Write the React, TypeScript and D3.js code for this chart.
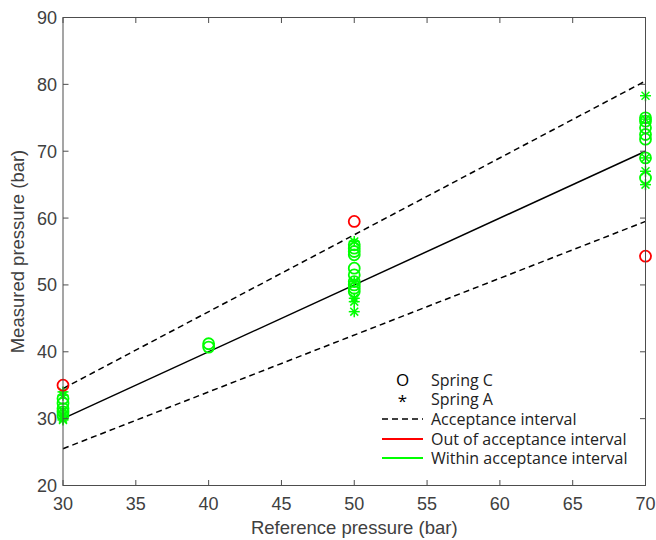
import React from "react";
import * as d3 from "d3";

const W = 656;
const H = 540;

// Spring C (circles)
const springCX = [30, 30, 30, 30, 30, 30, 40, 40, 50, 50, 50, 50, 50, 50, 50, 50, 50, 50, 50, 70, 70, 70, 70, 70, 70, 70, 70];
const springCY = [35.0, 33.0, 32.3, 31.5, 31.0, 30.5, 41.2, 40.7, 59.5, 56.0, 55.5, 55.0, 54.5, 52.5, 51.5, 50.5, 50.0, 49.5, 49.0, 54.3, 75.0, 74.5, 73.5, 72.5, 71.8, 69.0, 66.0];

// Spring A (asterisks)
const springAX = [30, 30, 30, 30, 30, 30, 50, 50, 50, 50, 50, 70, 70, 70, 70, 70];
const springAY = [34.0, 33.5, 31.0, 30.5, 30.0, 29.8, 56.5, 50.5, 48.0, 47.5, 46.0, 78.3, 74.8, 69.0, 67.0, 65.0];

const refRange = [30, 70];
const tolerance = 0.15;
const xTicks = [30, 35, 40, 45, 50, 55, 60, 65, 70];
const yTicks = [20, 30, 40, 50, 60, 70, 80, 90];

const legendLabels = ["Spring C", "Spring A", "Acceptance interval", "Out of acceptance interval", "Within acceptance interval"];

const RED = "#ff0000";
const GREEN = "#00ff00";
const AXIS = "#4d4d4d";
const TEXT = "#404040";

export default function App() {
  const L = 63, R = 645.5, T = 17.5, B = 485.5;
  const x = d3.scaleLinear().domain([30, 70]).range([L, R]);
  const y = d3.scaleLinear().domain([20, 90]).range([B, T]);
  const line = d3.line<[number, number]>().x((d) => x(d[0])).y((d) => y(d[1]));

  const colorFor = (rx: number, v: number) =>
    v > rx * (1 + tolerance) || v < rx * (1 - tolerance) ? RED : GREEN;

  const tickLen = 5.5;
  const ms = 5.5;

  const star = (cx: number, cy: number, c: string, k: number) => {
    const d = ms * 0.72;
    return (
      <g key={"a" + k} stroke={c} strokeWidth={1.5}>
        <line x1={cx - ms} y1={cy} x2={cx + ms} y2={cy} />
        <line x1={cx} y1={cy - ms} x2={cx} y2={cy + ms} />
        <line x1={cx - d} y1={cy - d} x2={cx + d} y2={cy + d} />
        <line x1={cx - d} y1={cy + d} x2={cx + d} y2={cy - d} />
      </g>
    );
  };

  const legX = 382, legX2 = 423, legText = 431;
  const legY = [380, 399, 419, 439, 458];

  return (
    <div style={{ position: "absolute", left: 0, top: 0 }}>
      <svg width={W} height={H} style={{ display: "block", background: "#fff" }}>
        <rect x={0} y={0} width={W} height={H} fill="#fff" />
        {/* reference lines */}
        <path d={line(refRange.map((r) => [r, r]) as [number, number][]) || ""} fill="none" stroke="#000" strokeWidth={1.5} />
        <path d={line(refRange.map((r) => [r, r * (1 + tolerance)]) as [number, number][]) || ""} fill="none" stroke="#000" strokeWidth={1.5} strokeDasharray="6,4" />
        <path d={line(refRange.map((r) => [r, r * (1 - tolerance)]) as [number, number][]) || ""} fill="none" stroke="#000" strokeWidth={1.5} strokeDasharray="6,4" />

        {/* Spring A */}
        {springAX.map((rx, i) => star(x(rx), y(springAY[i]), colorFor(rx, springAY[i]), i))}
        {/* Spring C */}
        {springCX.map((rx, i) => (
          <circle key={"c" + i} cx={x(rx)} cy={y(springCY[i])} r={ms} fill="none" stroke={colorFor(rx, springCY[i])} strokeWidth={1.8} />
        ))}

        {/* axes box */}
        <rect x={L} y={T} width={R - L} height={B - T} fill="none" stroke={AXIS} strokeWidth={1} />
        {xTicks.map((t) => (
          <g key={"xt" + t}>
            <line x1={x(t)} x2={x(t)} y1={B} y2={B - tickLen} stroke={AXIS} />
            <line x1={x(t)} x2={x(t)} y1={T} y2={T + tickLen} stroke={AXIS} />
            <text x={x(t)} y={B + 24} textAnchor="middle" fontFamily="Liberation Sans, Arial, sans-serif" fontSize={18} fill={TEXT}>{t}</text>
          </g>
        ))}
        {yTicks.map((t) => (
          <g key={"yt" + t}>
            <line x1={L} x2={L + tickLen} y1={y(t)} y2={y(t)} stroke={AXIS} />
            <line x1={R} x2={R - tickLen} y1={y(t)} y2={y(t)} stroke={AXIS} />
            <text x={L - 6} y={y(t) + 6.5} textAnchor="end" fontFamily="Liberation Sans, Arial, sans-serif" fontSize={18} fill={TEXT}>{t}</text>
          </g>
        ))}
        <text x={(L + R) / 2} y={534} textAnchor="middle" fontFamily="Liberation Sans, Arial, sans-serif" fontSize={18.5} fill={TEXT}>Reference pressure (bar)</text>
        <text transform={`translate(24, ${(T + B) / 2}) rotate(-90)`} textAnchor="middle" fontFamily="Liberation Sans, Arial, sans-serif" fontSize={18.5} fill={TEXT}>Measured pressure (bar)</text>

        {/* legend */}
        <g fontFamily="Open Sans, Noto Sans, sans-serif" fontSize={16} fill="#222">
          <text x={(legX + legX2) / 2} y={legY[0] + 6} textAnchor="middle" fontSize={17} fill="#000">O</text>
          <text x={(legX + legX2) / 2} y={legY[1] + 8} textAnchor="middle" fontSize={17} fill="#000">*</text>
          <line x1={legX} x2={legX2} y1={legY[2]} y2={legY[2]} stroke="#000" strokeWidth={1.5} strokeDasharray="6,4" />
          <line x1={legX} x2={legX2} y1={legY[3]} y2={legY[3]} stroke={RED} strokeWidth={2} />
          <line x1={legX} x2={legX2} y1={legY[4]} y2={legY[4]} stroke={GREEN} strokeWidth={2} />
          {legendLabels.map((lab, i) => (
            <text key={lab} x={legText} y={legY[i] + 5.5}>{lab}</text>
          ))}
        </g>
      </svg>
    </div>
  );
}
